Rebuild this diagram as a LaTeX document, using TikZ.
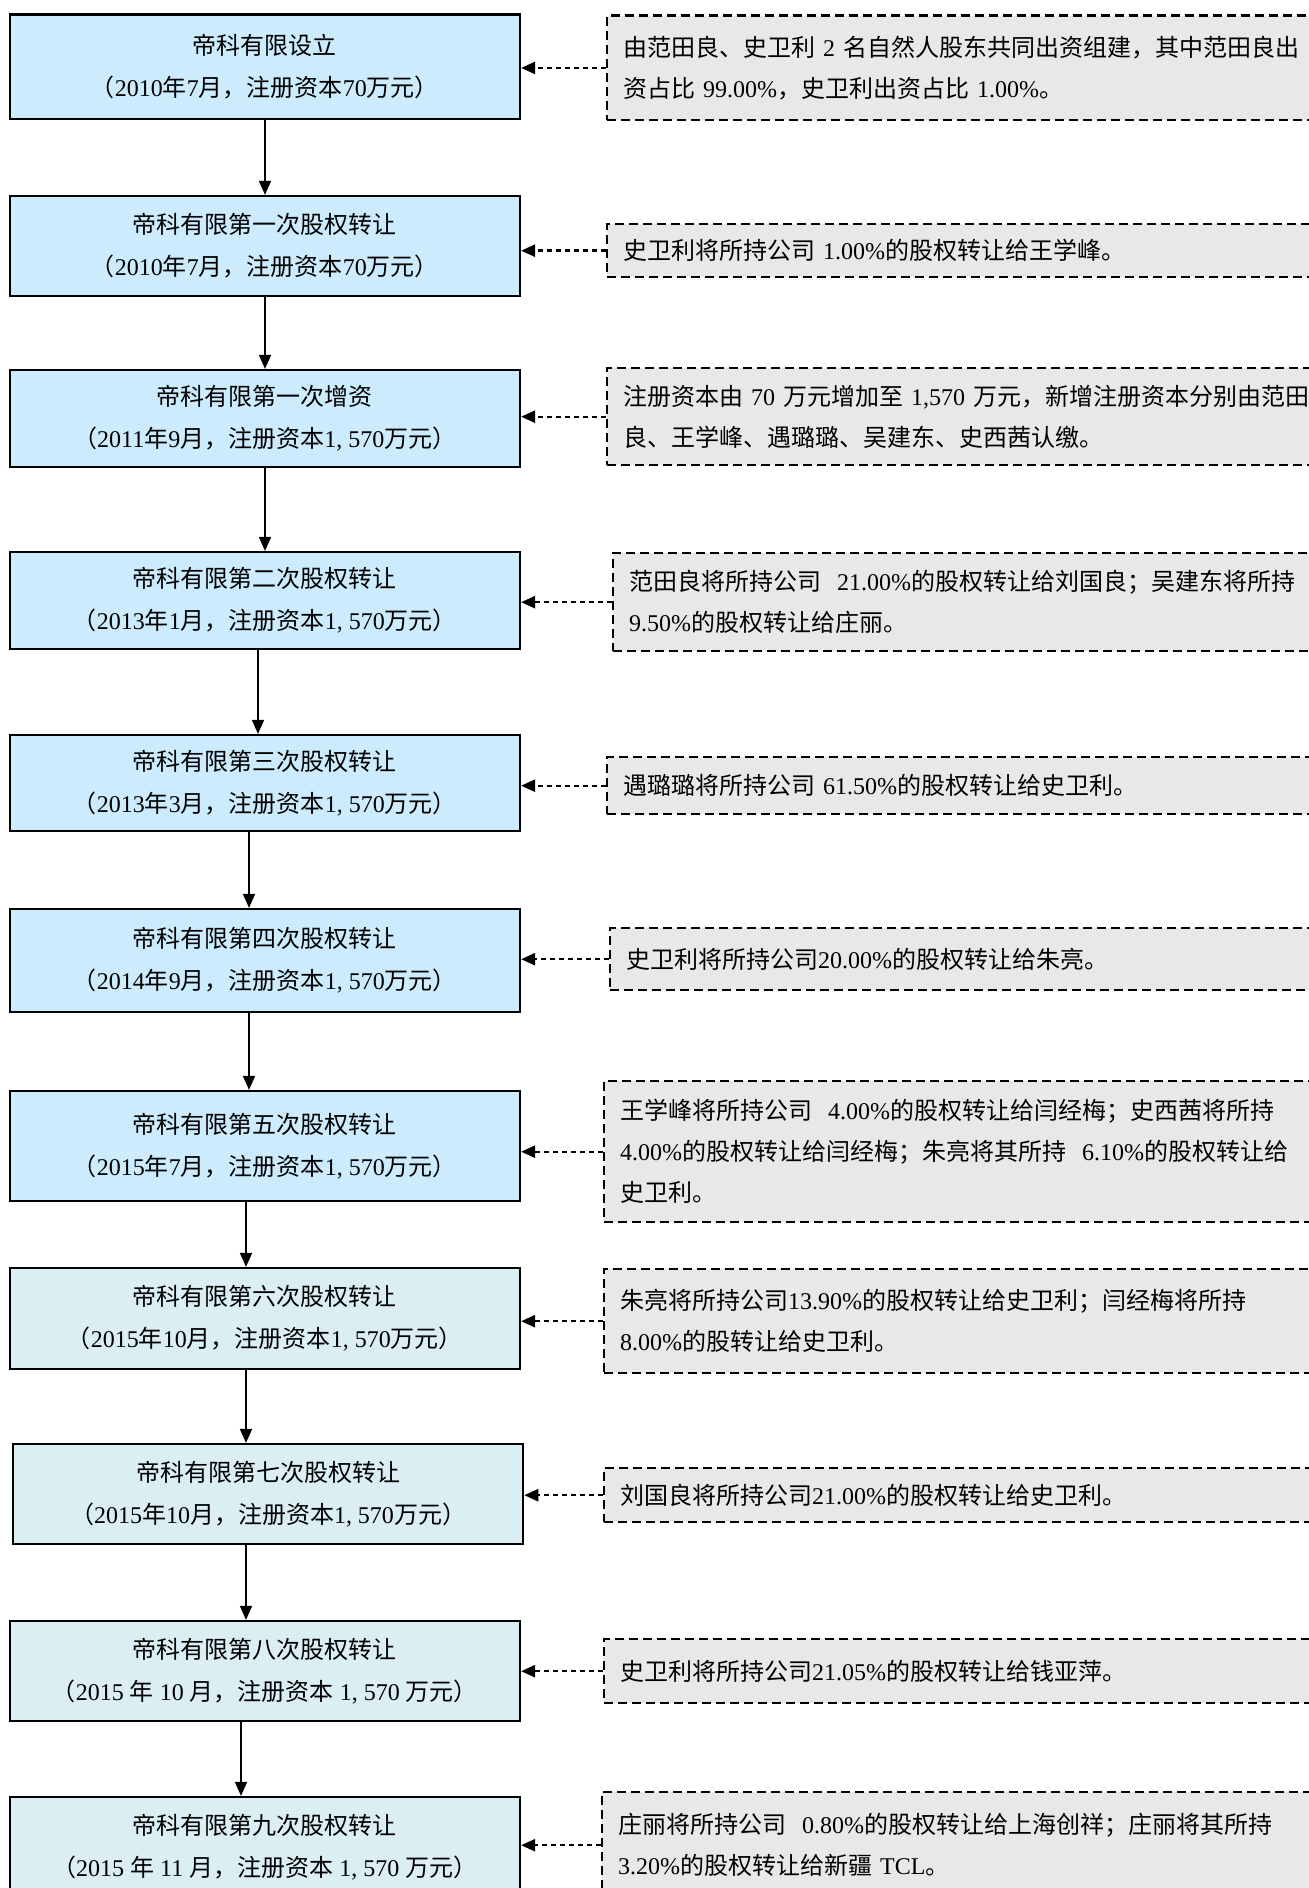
\documentclass[tikz,border=0pt]{standalone}
\usepackage{fontspec}
\setmainfont{Liberation Serif}
\newfontfamily\cjkfont{Noto Sans CJK SC}
\usetikzlibrary{arrows.meta}
\XeTeXinterchartokenstate=1
\newXeTeXintercharclass\cjkclass
\newcount\cjkcnt
\def\setcjkrange#1#2{\cjkcnt=#1\relax\loop\XeTeXcharclass\cjkcnt=\cjkclass\relax\ifnum\cjkcnt<#2\relax\advance\cjkcnt by 1\relax\repeat}
\setcjkrange{"3000}{"303F}
\setcjkrange{"4E00}{"9FFF}
\setcjkrange{"FF00}{"FFEF}
\XeTeXinterchartoks 0 \cjkclass = {\cjkfont}
\XeTeXinterchartoks 4095 \cjkclass = {\cjkfont}
\XeTeXinterchartoks \cjkclass 0 = {\rmfamily}
\XeTeXinterchartoks \cjkclass 4095 = {\rmfamily}
\definecolor{boxA}{HTML}{CCEBFC}
\definecolor{boxB}{HTML}{DAEEF3}
\definecolor{rgray}{HTML}{E8E8E8}
\begin{document}
\begin{tikzpicture}[x=0.5pt,y=-0.5pt,
  lbox/.style={draw=black, line width=1.1pt, align=center, minimum width=255.2pt, inner sep=0pt,
    font=\fontsize{12pt}{21pt}\selectfont},
  lboxA/.style={lbox, fill=boxA},
  lboxB/.style={lbox, fill=boxB},
  rbox/.style={draw=black, line width=1.2pt, dash pattern=on 4.5pt off 2.5pt, fill=rgray,
    anchor=north west, align=left, inner xsep=8pt, inner ysep=0pt,
    font=\fontsize{12pt}{20.5pt}\selectfont},
  varrow/.style={-{Triangle[length=7pt,width=6pt]}, line width=0.8pt},
  darrow/.style={-{Triangle[length=7pt,width=6pt]}, line width=1.2pt, dash pattern=on 2.5pt off 2pt}]
\useasboundingbox (0,0) rectangle (1309,1888);
\clip (0,0) rectangle (1309,1888);

% left boxes
\node[lboxA, minimum height=52.25pt] (l1) at (264.8,66.75) {帝科有限设立\\（2010年7月，注册资本70万元）};
\node[lboxA, minimum height=50pt] (l2) at (264.8,246) {帝科有限第一次股权转让\\（2010年7月，注册资本70万元）};
\node[lboxA, minimum height=48.5pt] (l3) at (264.8,418.5) {帝科有限第一次增资\\（2011年9月，注册资本1,~570万元）};
\node[lboxA, minimum height=48.5pt] (l4) at (264.8,600.5) {帝科有限第二次股权转让\\（2013年1月，注册资本1,~570万元）};
\node[lboxA, minimum height=48pt] (l5) at (264.8,783) {帝科有限第三次股权转让\\（2013年3月，注册资本1,~570万元）};
\node[lboxA, minimum height=51.5pt] (l6) at (264.8,960.5) {帝科有限第四次股权转让\\（2014年9月，注册资本1,~570万元）};
\node[lboxA, minimum height=55pt] (l7) at (264.8,1146) {帝科有限第五次股权转让\\（2015年7月，注册资本1,~570万元）};
\node[lboxB, minimum height=50.5pt] (l8) at (264.8,1318.5) {帝科有限第六次股权转让\\（2015年10月，注册资本1,~570万元）};
\node[lboxB, minimum height=50pt] (l9) at (268,1494) {帝科有限第七次股权转让\\（2015年10月，注册资本1,~570万元）};
\node[lboxB, minimum height=50pt] (l10) at (264.8,1671) {帝科有限第八次股权转让\\（2015~年~10~月，注册资本~1,~570~万元）};
\node[lboxB, minimum height=50pt] (l11) at (264.8,1847) {帝科有限第九次股权转让\\（2015~年~11~月，注册资本~1,~570~万元）};

% right boxes
\node[rbox, text width=346pt, minimum height=52.25pt] (r1) at (606,14.5) {由范田良、史卫利~2~名自然人股东共同出资组建，其中范田良出\\资占比~99.00\%，史卫利出资占比~1.00\%。};
\node[rbox, text width=346pt, minimum height=26.5pt] (r2) at (606,223) {史卫利将所持公司~1.00\%的股权转让给王学峰。};
\node[rbox, text width=346pt, minimum height=48.5pt] (r3) at (606,367) {注册资本由~70~万元增加至~1,570~万元，新增注册资本分别由范田\\良、王学峰、遇璐璐、吴建东、史西茜认缴。};
\node[rbox, text width=343pt, minimum height=49pt] (r4) at (612,552) {范田良将所持公司~~21.00\%的股权转让给刘国良；吴建东将所持\\9.50\%的股权转让给庄丽。};
\node[rbox, text width=346pt, minimum height=28.5pt] (r5) at (606,756) {遇璐璐将所持公司~61.50\%的股权转让给史卫利。};
\node[rbox, text width=344.5pt, minimum height=31pt] (r6) at (609,927) {史卫利将所持公司20.00\%的股权转让给朱亮。};
\node[rbox, text width=347.5pt, minimum height=70.5pt] (r7) at (603,1080) {王学峰将所持公司~~4.00\%的股权转让给闫经梅；史西茜将所持\\4.00\%的股权转让给闫经梅；朱亮将其所持~~6.10\%的股权转让给\\史卫利。};
\node[rbox, text width=347.5pt, minimum height=52pt] (r8) at (603,1268) {朱亮将所持公司13.90\%的股权转让给史卫利；闫经梅将所持\\8.00\%的股转让给史卫利。};
\node[rbox, text width=347.5pt, minimum height=27pt] (r9) at (603,1467) {刘国良将所持公司21.00\%的股权转让给史卫利。};
\node[rbox, text width=347.5pt, minimum height=32pt] (r10) at (603,1638) {史卫利将所持公司21.05\%的股权转让给钱亚萍。};
\node[rbox, text width=348.5pt, minimum height=53pt] (r11) at (601,1791) {庄丽将所持公司~~0.80\%的股权转让给上海创祥；庄丽将其所持\\3.20\%的股权转让给新疆~TCL。};

% vertical arrows
\draw[varrow] (l1.south -| 265,0) -- (l2.north -| 265,0);
\draw[varrow] (l2.south -| 265,0) -- (l3.north -| 265,0);
\draw[varrow] (l3.south -| 265,0) -- (l4.north -| 265,0);
\draw[varrow] (l4.south -| 258,0) -- (l5.north -| 258,0);
\draw[varrow] (l5.south -| 249,0) -- (l6.north -| 249,0);
\draw[varrow] (l6.south -| 249,0) -- (l7.north -| 249,0);
\draw[varrow] (l7.south -| 246,0) -- (l8.north -| 246,0);
\draw[varrow] (l8.south -| 246,0) -- (l9.north -| 246,0);
\draw[varrow] (l9.south -| 246,0) -- (l10.north -| 246,0);
\draw[varrow] (l10.south -| 241,0) -- (l11.north -| 241,0);

% dashed connectors
\foreach \i in {1,...,11}{
  \draw[darrow] (r\i.west) -- (r\i.west -| l\i.east);
}
\end{tikzpicture}
\end{document}
